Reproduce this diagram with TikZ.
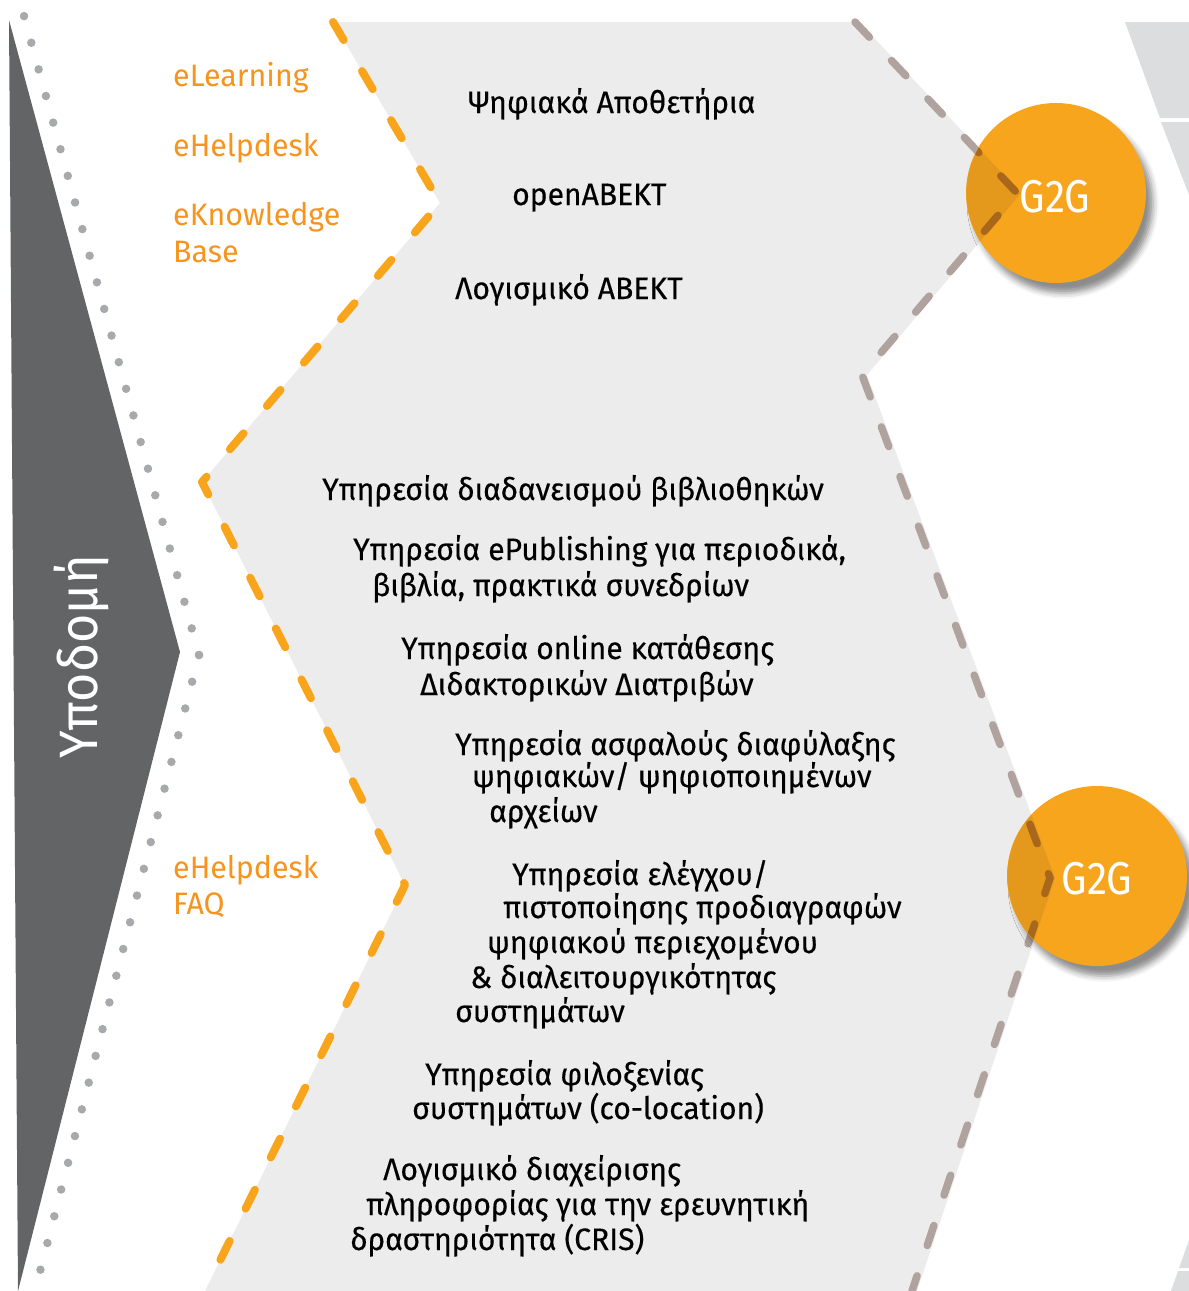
\documentclass[tikz,border=0pt]{standalone}
\usepackage{fontspec}
\setmainfont{Fira Sans}[FakeStretch=0.97, FakeBold=0.4]
\newfontfamily\orfont{Fira Sans}[FakeStretch=0.98]
\newfontfamily\rotfont{Fira Sans}[FakeStretch=0.93]
\newfontfamily\gfont{Fira Sans}
\usetikzlibrary{shadows.blur}
\definecolor{darktri}{HTML}{636466}
\definecolor{dotgray}{HTML}{A7A9AC}
\definecolor{bandgray}{HTML}{ECECEC}
\definecolor{chevgray}{HTML}{DCDDDF}
\definecolor{dashorange}{HTML}{F9A51B}
\definecolor{dashtaupe}{HTML}{B0A39E}
\definecolor{orangetext}{HTML}{F7941D}
\definecolor{circorange}{HTML}{F8A51E}
\definecolor{overgray}{HTML}{E5991C}
\definecolor{overdash}{HTML}{A8671A}
\newcommand\mainfs{\fontsize{31}{36}\selectfont}
\begin{document}
\begin{tikzpicture}[x=1pt,y=-1pt,
  txt/.style={anchor=base west, inner sep=0pt, font=\mainfs, text=black},
  otxt/.style={anchor=base west, inner sep=0pt, font=\orfont\mainfs, text=orangetext},
  odash/.style={draw=dashorange, line width=8pt, line cap=round, line join=round, dash pattern=on 21pt off 36pt},
  tdash/.style={draw=dashtaupe, line width=7.5pt, line cap=round, line join=round, dash pattern=on 21pt off 32pt},
  dotline/.style={draw=dotgray, line width=8.5pt, line cap=round, dash pattern=on 0pt off 27.6pt},
  g2gcirc/.style={circle, inner sep=0pt, minimum size=180pt, fill=circorange,
     blur shadow={shadow xshift=7pt, shadow yshift=-10pt, shadow blur radius=6pt, shadow opacity=45}},
  g2gtext/.style={anchor=base, inner sep=0pt, text=white, font=\gfont\fontsize{46}{50}\selectfont}]
\useasboundingbox (0,0) rectangle (1189,1291);
\clip (0,0) rectangle (1189,1291);

% right-hand grey chevron pieces
\fill[chevgray] (1125,22) -- (1189,22) -- (1189,118) -- (1160,118) -- cycle;
\fill[chevgray] (1161,122) -- (1189,122) -- (1189,195) -- cycle;
\fill[chevgray] (1189,1240) -- (1189,1268) -- (1179,1268) -- cycle;
\fill[chevgray] (1178,1271) -- (1189,1271) -- (1189,1291) -- (1171,1291) -- cycle;

% coordinates of the dashed lines
\coordinate (oa) at (333,22);
\coordinate (ob) at (440,203);
\coordinate (oc) at (202,482);
\coordinate (od) at (405,885);
\coordinate (oe) at (205,1291);
\coordinate (ta) at (855,22);
\coordinate (tb) at (1017,193);
\coordinate (tc) at (862,375);
\coordinate (td) at (1050,878);
\coordinate (te) at (912,1291);

% light band
\fill[bandgray] (oa) -- (ob) -- (oc) -- (od) -- (oe) -- (917,1291) -- (1055,878) -- (867,375) -- (1021,193) -- (859,22) -- cycle;

% dark triangle and dotted line
\fill[darktri] (9,20) -- (180,652) -- (18,1291) -- cycle;
\coordinate (pa) at (24,16);
\coordinate (pb) at (199,655);
\coordinate (pc) at (35,1291);
\draw[dotline] (pb) -- (pa);
\draw[dotline] (pb) -- (pc);
\node[rotate=90, anchor=base, inner sep=0pt, text=white, font=\rotfont\fontsize{54}{56}\selectfont] (ypo) at (97,657) {Υποδομή};

% dashed lines
\draw[odash] (oa) -- (ob) -- (oc) -- (od) -- (oe);
\draw[tdash] (ta) -- (tb) -- (tc) -- (td) -- (te);

% circles
\node[g2gcirc] (c1) at (1056,193) {};
\node[g2gcirc] (c2) at (1097,876) {};
\begin{scope}
\clip (1056,193) circle (89.6);
\fill[overgray] (oa) -- (ob) -- (oc) -- (od) -- (oe) -- (917,1291) -- (1055,878) -- (867,375) -- (1021,193) -- (859,22) -- cycle;
\draw[tdash, draw=overdash] (ta) -- (tb) -- (tc) -- (td) -- (te);
\end{scope}
\begin{scope}
\clip (1097,876) circle (89.6);
\fill[overgray] (oa) -- (ob) -- (oc) -- (od) -- (oe) -- (917,1291) -- (1055,878) -- (867,375) -- (1021,193) -- (859,22) -- cycle;
\draw[tdash, draw=overdash] (ta) -- (tb) -- (tc) -- (td) -- (te);
\end{scope}
\node[g2gtext] (g1) at (1055,212) {\scalebox{0.88}[1]{G2G}};
\node[g2gtext] (g2) at (1097,894) {\scalebox{0.88}[1]{G2G}};

% orange labels
\node[otxt] (e1) at (173,86) {eLearning};
\node[otxt] (e2) at (173,156) {eHelpdesk};
\node[otxt] (e3) at (173,225) {eKnowledge};
\node[otxt] (e4) at (173,262) {Base};
\node[otxt] (e5) at (173,878) {eHelpdesk};
\node[otxt] (e6) at (173,914) {FAQ};

% black labels
\node[txt] (t1) at (468,113) {Ψηφιακά Αποθετήρια};
\node[txt] (t2) at (512,205) {openΑΒΕΚΤ};
\node[txt] (t3) at (455,299) {Λογισμικό ΑΒΕΚΤ};
\node[txt] (t4) at (322,500) {Υπηρεσία διαδανεισμού βιβλιοθηκών};
\node[txt] (t5) at (353,560) {Υπηρεσία ePublishing για περιοδικά,};
\node[txt] (t6) at (372,596) {βιβλία, πρακτικά συνεδρίων};
\node[txt] (t7) at (401,659) {Υπηρεσία online κατάθεσης};
\node[txt] (t8) at (420,695) {Διδακτορικών Διατριβών};
\node[txt] (t9) at (455,755) {Υπηρεσία ασφαλούς διαφύλαξης};
\node[txt] (t10) at (472,787) {ψηφιακών/ ψηφιοποιημένων};
\node[txt] (t11) at (489,822) {αρχείων};
\node[txt] (t12) at (512,885) {Υπηρεσία ελέγχου/};
\node[txt] (t13) at (503,918) {πιστοποίησης προδιαγραφών};
\node[txt] (t14) at (487,953) {ψηφιακού περιεχομένου};
\node[txt] (t15) at (470,988) {\& διαλειτουργικότητας};
\node[txt] (t16) at (455,1022) {συστημάτων};
\node[txt] (t17) at (425,1085) {Υπηρεσία φιλοξενίας};
\node[txt] (t18) at (412,1119) {συστημάτων (co-location)};
\node[txt] (t19) at (383,1180) {Λογισμικό διαχείρισης};
\node[txt] (t20) at (366,1215) {πληροφορίας για την ερευνητική};
\node[txt] (t21) at (350,1250) {δραστηριότητα (CRIS)};
\end{tikzpicture}
\end{document}
